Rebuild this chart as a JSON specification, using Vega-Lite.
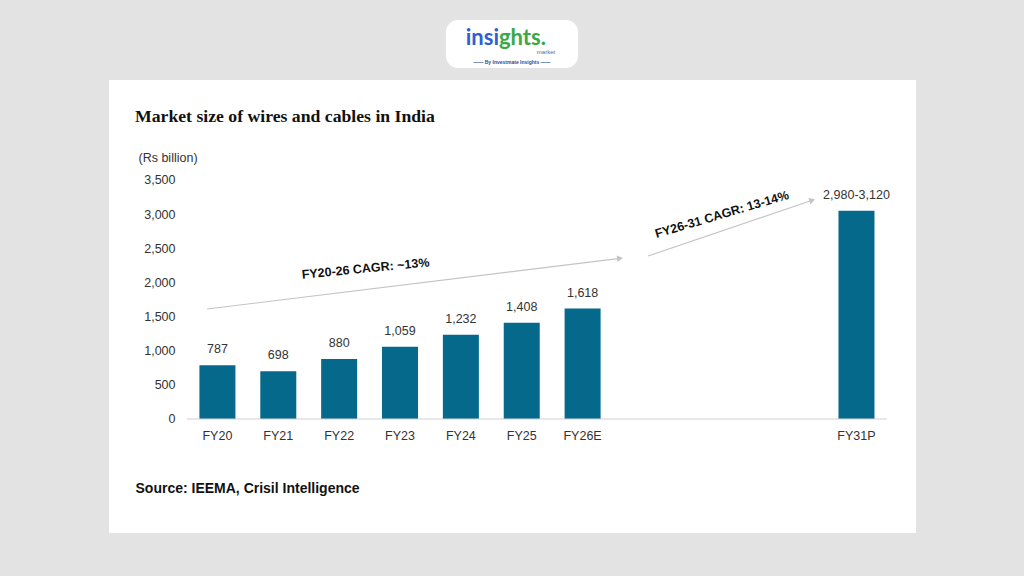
{
  "$schema": "https://vega.github.io/schema/vega-lite/v6.json",
  "width": 807,
  "height": 453,
  "autosize": {"type": "none"},
  "padding": {"left": 109, "top": 80, "right": 108, "bottom": 43},
  "background": "#e3e3e3",
  "config": {"view": {"fill": "white", "stroke": null}, "font": "Liberation Sans"},
  "title": {
    "text": "Market size of wires and cables in India",
    "font": "Liberation Serif",
    "fontSize": 17.7,
    "fontWeight": "bold",
    "color": "#111111",
    "anchor": "start",
    "frame": "group",
    "dx": 26,
    "offset": -120,
    "baseline": "alphabetic"
  },
  "layer": [
    {
      "data": {"values": [
        {"year": "FY20", "value": 787, "label": "787"},
        {"year": "FY21", "value": 698, "label": "698"},
        {"year": "FY22", "value": 880, "label": "880"},
        {"year": "FY23", "value": 1059, "label": "1,059"},
        {"year": "FY24", "value": 1232, "label": "1,232"},
        {"year": "FY25", "value": 1408, "label": "1,408"},
        {"year": "FY26E", "value": 1618, "label": "1,618"},
        {"year": "FY31P", "value": 3050, "label": "2,980-3,120"}
      ]},
      "encoding": {
        "x": {
          "field": "year",
          "type": "nominal",
          "sort": null,
          "scale": {
            "domain": ["a1","a2","FY20","g1","FY21","g2","FY22","g3","FY23","g4","FY24","g5","FY25","g6","FY26E","g7","g8","g9","g10","g11","g12","g13","g14","FY31P","a3"],
            "paddingInner": 0,
            "paddingOuter": 0.7595,
            "align": 0.6998
          },
          "axis": {
            "values": ["FY20","FY21","FY22","FY23","FY24","FY25","FY26E","FY31P"],
            "domain": false,
            "ticks": false,
            "tickSize": 0,
            "grid": false,
            "labelPadding": 10,
            "labelFontSize": 12.5,
            "labelColor": "#333333",
            "labelAngle": 0,
            "offset": -114,
            "title": "Source: IEEMA, Crisil Intelligence",
            "titleFontSize": 14,
            "titleFontWeight": "bold",
            "titleColor": "#111111",
            "titleX": 26,
            "titleY": 69.5,
            "titleAlign": "left",
            "titleBaseline": "middle"
          }
        },
        "y": {
          "field": "value",
          "type": "quantitative",
          "scale": {"domain": [-1669.5, 4964.4], "nice": false, "zero": false},
          "axis": {
            "values": [0, 500, 1000, 1500, 2000, 2500, 3000, 3500],
            "format": ",.0f",
            "domain": false,
            "ticks": false,
            "tickSize": 0,
            "grid": false,
            "labelPadding": 12,
            "labelFontSize": 12.5,
            "labelColor": "#333333",
            "offset": -78,
            "title": "(Rs billion)",
            "titleAngle": 0,
            "titleAlign": "left",
            "titleBaseline": "middle",
            "titleX": -49,
            "titleY": 77,
            "titleFontSize": 12.5,
            "titleFontWeight": "normal",
            "titleColor": "#333333"
          }
        }
      },
      "layer": [
        {"mark": {"type": "bar", "color": "#05698b", "width": {"band": 1.183}}},
        {"mark": {"type": "text", "dy": -16, "fontSize": 12.5, "color": "#333333", "baseline": "middle"}, "encoding": {"text": {"field": "label"}}}
      ]
    },
    {
      "data": {"values": [{}]},
      "layer": [
        {
          "mark": {"type": "rect", "color": "white", "cornerRadius": 12},
          "encoding": {
            "x": {"datum": 7.512, "type": "quantitative", "scale": {"domain": [-3.562, 22.957], "nice": false, "zero": false}, "axis": null},
            "x2": {"datum": 11.85},
            "y": {"datum": 5843, "type": "quantitative", "scale": {"domain": [-1669.5, 4964.4], "nice": false, "zero": false}, "axis": null},
            "y2": {"datum": 5140}
          }
        },
        {
          "mark": {"type": "text", "text": "insi", "align": "right", "baseline": "alphabetic", "font": "Lato", "fontSize": 22, "fontWeight": "bold", "color": "#2f5fd0"},
          "encoding": {
            "x": {"datum": 9.254, "type": "quantitative", "scale": {"domain": [-3.562, 22.957], "nice": false, "zero": false}, "axis": null},
            "y": {"datum": 5477, "type": "quantitative", "scale": {"domain": [-1669.5, 4964.4], "nice": false, "zero": false}, "axis": null}
          }
        },
        {
          "mark": {"type": "text", "text": "ghts.", "align": "left", "baseline": "alphabetic", "font": "Lato", "fontSize": 22, "fontWeight": "bold", "color": "#3aa845"},
          "encoding": {
            "x": {"datum": 9.254, "type": "quantitative", "scale": {"domain": [-3.562, 22.957], "nice": false, "zero": false}, "axis": null},
            "y": {"datum": 5477, "type": "quantitative", "scale": {"domain": [-1669.5, 4964.4], "nice": false, "zero": false}, "axis": null}
          }
        },
        {
          "mark": {"type": "text", "text": "market", "align": "right", "baseline": "middle", "fontSize": 6, "color": "#4a6fa5"},
          "encoding": {
            "x": {"datum": 11.1, "type": "quantitative", "scale": {"domain": [-3.562, 22.957], "nice": false, "zero": false}, "axis": null},
            "y": {"datum": 5374, "type": "quantitative", "scale": {"domain": [-1669.5, 4964.4], "nice": false, "zero": false}, "axis": null}
          }
        },
        {
          "mark": {"type": "text", "text": "—— By Investmate Insights ——", "align": "center", "baseline": "middle", "fontSize": 5, "fontWeight": "bold", "color": "#2b4f9a"},
          "encoding": {
            "x": {"datum": 9.681, "type": "quantitative", "scale": {"domain": [-3.562, 22.957], "nice": false, "zero": false}, "axis": null},
            "y": {"datum": 5228, "type": "quantitative", "scale": {"domain": [-1669.5, 4964.4], "nice": false, "zero": false}, "axis": null}
          }
        },
        {
          "mark": {"type": "rule", "color": "#d0d0d0", "strokeWidth": 1},
          "encoding": {
            "x": {"datum": -0.999, "type": "quantitative", "scale": {"domain": [-3.562, 22.957], "nice": false, "zero": false}, "axis": null},
            "x2": {"datum": 22.005},
            "y": {"datum": 0, "type": "quantitative", "scale": {"domain": [-1669.5, 4964.4], "nice": false, "zero": false}, "axis": null}
          }
        },
        {
          "mark": {"type": "rule", "color": "#c4c4c4", "strokeWidth": 1.2},
          "encoding": {
            "x": {"datum": -0.342, "type": "quantitative", "scale": {"domain": [-3.562, 22.957], "nice": false, "zero": false}, "axis": null},
            "x2": {"datum": 13.231},
            "y": {"datum": 1611, "type": "quantitative", "scale": {"domain": [-1669.5, 4964.4], "nice": false, "zero": false}, "axis": null},
            "y2": {"datum": 2352}
          }
        },
        {
          "mark": {"type": "point", "shape": "triangle-right", "angle": -7, "size": 45, "filled": true, "color": "#c4c4c4", "opacity": 1},
          "encoding": {
            "x": {"datum": 13.231, "type": "quantitative", "scale": {"domain": [-3.562, 22.957], "nice": false, "zero": false}, "axis": null},
            "y": {"datum": 2352, "type": "quantitative", "scale": {"domain": [-1669.5, 4964.4], "nice": false, "zero": false}, "axis": null}
          }
        },
        {
          "mark": {"type": "rule", "color": "#c4c4c4", "strokeWidth": 1.2},
          "encoding": {
            "x": {"datum": 14.15, "type": "quantitative", "scale": {"domain": [-3.562, 22.957], "nice": false, "zero": false}, "axis": null},
            "x2": {"datum": 19.546},
            "y": {"datum": 2387, "type": "quantitative", "scale": {"domain": [-1669.5, 4964.4], "nice": false, "zero": false}, "axis": null},
            "y2": {"datum": 3203}
          }
        },
        {
          "mark": {"type": "point", "shape": "triangle-right", "angle": -18.75, "size": 45, "filled": true, "color": "#c4c4c4", "opacity": 1},
          "encoding": {
            "x": {"datum": 19.546, "type": "quantitative", "scale": {"domain": [-3.562, 22.957], "nice": false, "zero": false}, "axis": null},
            "y": {"datum": 3203, "type": "quantitative", "scale": {"domain": [-1669.5, 4964.4], "nice": false, "zero": false}, "axis": null}
          }
        },
        {
          "mark": {"type": "text", "text": "FY20-26 CAGR: ~13%", "align": "center", "baseline": "alphabetic", "angle": -5.5, "fontSize": 12.5, "fontWeight": "bold", "color": "#111111"},
          "encoding": {
            "x": {"datum": 4.883, "type": "quantitative", "scale": {"domain": [-3.562, 22.957], "nice": false, "zero": false}, "axis": null},
            "y": {"datum": 2145, "type": "quantitative", "scale": {"domain": [-1669.5, 4964.4], "nice": false, "zero": false}, "axis": null}
          }
        },
        {
          "mark": {"type": "text", "text": "FY26-31 CAGR: 13-14%", "align": "center", "baseline": "alphabetic", "angle": -16.5, "fontSize": 12.5, "fontWeight": "bold", "color": "#111111"},
          "encoding": {
            "x": {"datum": 16.615, "type": "quantitative", "scale": {"domain": [-3.562, 22.957], "nice": false, "zero": false}, "axis": null},
            "y": {"datum": 2939, "type": "quantitative", "scale": {"domain": [-1669.5, 4964.4], "nice": false, "zero": false}, "axis": null}
          }
        }
      ]
    }
  ],
  "resolve": {
    "scale": {"x": "independent", "y": "independent"},
    "axis": {"x": "independent", "y": "independent"}
  }
}
